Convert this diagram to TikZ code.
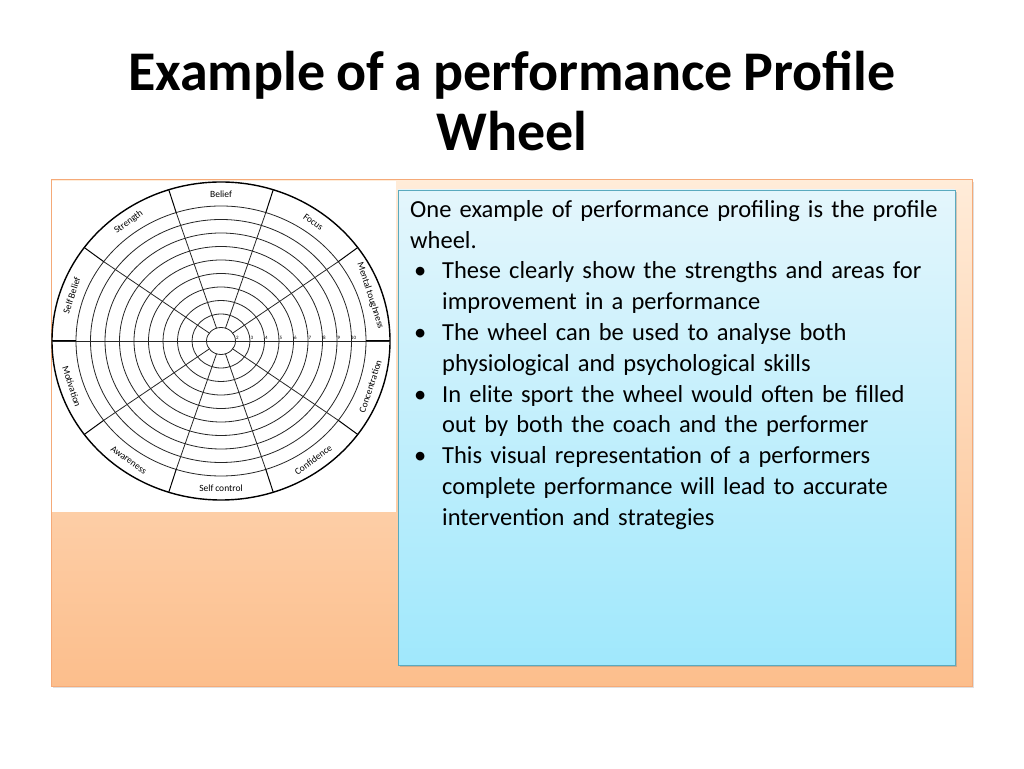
\documentclass[tikz,border=0pt]{standalone}
\usepackage{fontspec}
\setmainfont{Carlito}[WordSpace=0.85]
\usetikzlibrary{shadows}
\begin{document}
\begin{tikzpicture}[x=1pt,y=1pt,
  band/.style={font=\fontsize{9.5}{9.5}\selectfont,inner sep=0pt},
  num/.style={font=\fontsize{5}{5}\selectfont,inner sep=0pt},
  wl/.style={line width=0.8pt,black!85}]
\useasboundingbox (0,0) rectangle (1024,768);
\fill[white] (0,0) rectangle (1024,768);
\node[font=\bfseries\fontsize{56}{60}\selectfont,align=center] (title) at (512,667) {Example of a performance Profile\\Wheel};
% orange panel
\shade[top color=orange!15!white,bottom color={rgb,255:red,252;green,190;blue,140},draw={rgb,255:red,245;green,170;blue,120},line width=1pt,drop shadow={opacity=0.25}] (51,82) rectangle (972,588) node[coordinate] (panel) {};
\fill[white] (52,256) rectangle (396,587);
% wheel
\begin{scope}[shift={(221,427)}]
\coordinate (c) at (0,0);
\draw[line width=1.4pt] (c) ellipse [x radius=169pt,y radius=159pt];
\foreach \k in {1,...,10} \draw[wl] (c) ellipse [x radius={14.5*\k pt},y radius={13.5*\k pt}];
\foreach \a in {0,36,...,324} {
  \draw[wl] ({14.5*cos(\a)},{13.5*sin(\a)}) -- ({145*cos(\a)},{135*sin(\a)});
  \draw[line width=1pt] ({145*cos(\a)},{135*sin(\a)}) -- ({169*cos(\a)},{159*sin(\a)});
}
\draw[wl] (-169,0) -- (169,0);
\foreach \k in {2,...,10} \node[num,anchor=south] at ({14.5*(\k-1)+2},1) {\k};
\foreach \t/\a/\r in {Belief/90/0, Focus/54/-36, Mental toughness/18/-72, Concentration/-18/72, Confidence/-54/36, Self control/-90/0, Awareness/-126/-36, Motivation/-162/-72, Self Belief/162/72, Strength/126/36}
  \node[band,rotate=\r] at ({157*cos(\a)},{147*sin(\a)}) {\t};
\end{scope}
% blue box
\shade[top color={rgb,255:red,228;green,246;blue,252},bottom color={rgb,255:red,160;green,232;blue,252},draw={rgb,255:red,90;green,170;blue,190},line width=0.6pt,drop shadow={opacity=0.35,shadow xshift=2pt,shadow yshift=-2pt}] (398,103) rectangle (955,578);
\node[anchor=north west,align=left,text width=560pt,inner sep=0pt,font=\fontsize{24.5}{30.8}\selectfont] (txt) at (410,568) {%
One example of performance profiling is the profile\\
wheel.\\
\makebox[32pt][l]{\hspace{4pt}\textbullet}These clearly show the strengths and areas for\\
\hspace*{32pt}improvement in a performance\\
\makebox[32pt][l]{\hspace{4pt}\textbullet}The wheel can be used to analyse both\\
\hspace*{32pt}physiological and psychological skills\\
\makebox[32pt][l]{\hspace{4pt}\textbullet}In elite sport the wheel would often be filled\\
\hspace*{32pt}out by both the coach and the performer\\
\makebox[32pt][l]{\hspace{4pt}\textbullet}This visual representation of a performers\\
\hspace*{32pt}complete performance will lead to accurate\\
\hspace*{32pt}intervention and strategies};
\end{tikzpicture}
\end{document}
